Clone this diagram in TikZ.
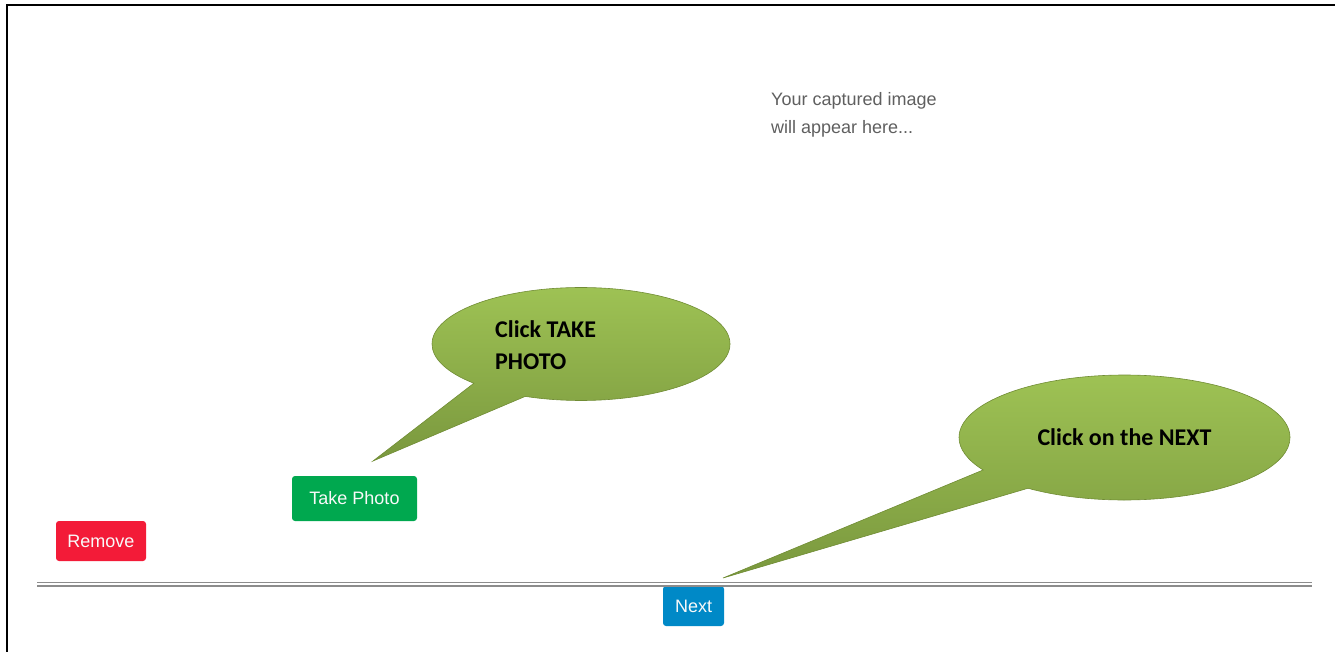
\documentclass[tikz,border=0pt]{standalone}
\usepackage{fontspec}
\setmainfont{Carlito}
\setsansfont{Liberation Sans}
\usetikzlibrary{positioning,shapes.callouts,shapes.geometric}

\definecolor{takegreen}{RGB}{0,168,79}
\definecolor{removered}{RGB}{243,27,56}
\definecolor{nextblue}{RGB}{0,137,199}
\definecolor{bubbletop}{RGB}{158,194,84}
\definecolor{bubblebot}{RGB}{122,152,62}
\definecolor{bubbleline}{RGB}{112,140,52}
\definecolor{hintgray}{RGB}{95,95,95}

\tikzset{
  button/.style={rectangle, rounded corners=3pt, inner sep=0pt, text=white!95!gray,
    font=\sffamily\fontsize{18}{20}\selectfont},
  bubble/.style={ellipse callout, inner sep=0pt, top color=bubbletop, bottom color=bubblebot,
    draw=bubbleline, line width=0.6pt, callout pointer arc=24},
  bubbletext/.style={font=\bfseries\fontsize{24}{32}\selectfont, align=left, inner sep=0pt},
}

\begin{document}
\begin{tikzpicture}[x=1pt, y=-1pt]
    \useasboundingbox (0,0) rectangle (1335,652);
    % frame
    \draw[line width=2.5pt] (7,652) -- (7,5) -- (1335,5);

    % placeholder text
    \node[anchor=base west, align=left, inner sep=0pt, text=hintgray,
          font=\sffamily\fontsize{18}{28}\selectfont] (hint) at (771,134)
          {Your captured image\\will appear here...};

    % buttons
    \node[button, fill=takegreen, minimum width=125pt, minimum height=45pt] (take) at (354.5,498.5) {Take Photo};
    \node[button, fill=removered, minimum width=90pt, minimum height=40pt] (remove) at (101,541) {Remove};
    \node[button, fill=nextblue, minimum width=61pt, minimum height=40pt] (next) at (693.5,606) {Next};

    % separator
    \draw[gray!90, line width=1.6pt] (37,582.3) -- (1312,582.3);
    \draw[gray!90, line width=1.6pt] (37,585.9) -- (1312,585.9);

    % callouts
    \coordinate (tiptake) at (373,461);
    \coordinate (tipnext) at (723,578);
    \node[bubble, minimum width=298pt, minimum height=113pt, callout absolute pointer={(tiptake)}] (takebubble) at (581,344) {};
    \node[bubble, minimum width=331pt, minimum height=125pt, callout pointer arc=23, callout absolute pointer={(tipnext)}] (nextbubble) at (1124.5,437.5) {};

    \node[bubbletext, anchor=base west] (taketext) at (495,369) {Click TAKE\\PHOTO};
    \node[bubbletext] (nexttext) at (nextbubble.center) {Click on the NEXT};
\end{tikzpicture}
\end{document}
